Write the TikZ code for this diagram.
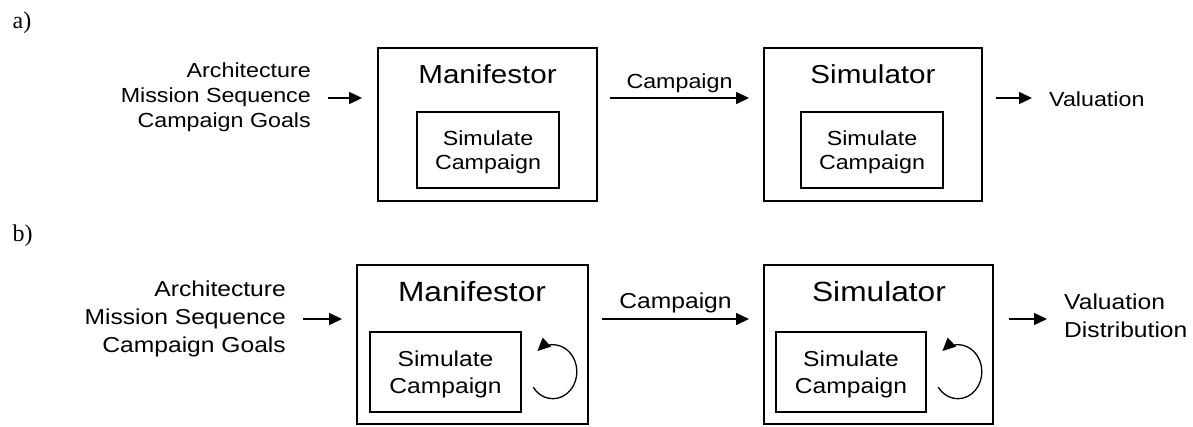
\documentclass[tikz,border=0pt]{standalone}
\usepackage{fontspec}
\setmainfont{Liberation Sans}[FakeStretch=1.14]
\newfontfamily\labelfont{Liberation Serif}
\usetikzlibrary{arrows.meta,calc}

\begin{document}
\begin{tikzpicture}[x=1pt,y=-1pt,
  txta/.style={font=\fontsize{20.4}{24}\selectfont, inner sep=0pt},
  txtb/.style={font=\fontsize{21.6}{26}\selectfont, inner sep=0pt},
  ttla/.style={font=\fontsize{26}{30}\selectfont, inner sep=0pt, anchor=base},
  ttlb/.style={font=\fontsize{27.8}{32}\selectfont, inner sep=0pt, anchor=base},
  panel/.style={font=\labelfont\fontsize{24}{28}\selectfont, inner sep=0pt, anchor=base west},
  outerbox/.style={draw, line width=1.9pt, inner sep=0pt},
  innerbox/.style={draw, line width=1.7pt, inner sep=0pt},
  flow/.style={line width=1.4pt, -{Triangle[length=13pt,width=12pt]}},
  repeatarc/.style={line width=1.3pt, -{Triangle[length=13pt,width=12pt]}},
]
\fill[white] (0,0) rectangle (1193,426);
\useasboundingbox (0,0) rectangle (1193,426);

% ---------------- a) single evaluation ----------------
\node[panel] (lbla) at (12.5,28.5) {a)};
\coordinate (rowa) at (0,98);

\node[txta, anchor=base east] (ina1) at (311,77) {Architecture};
\node[txta, anchor=base east] (ina2) at (311,102) {Mission Sequence};
\node[txta, anchor=base east] (ina3) at (311,127.5) {Campaign Goals};

\node[outerbox, minimum width=219pt, minimum height=153pt] (mana) at (487.5,124.5) {};
\node[ttla] (manat) at (487.5,83.5) {Manifestor};
\node[innerbox, minimum width=142pt, minimum height=76pt] (manai) at (488,150) {};
\node[txta, anchor=base] (manas) at (488,145) {Simulate};
\node[txta, anchor=base] (manac) at (488,169) {Campaign};

\node[outerbox, minimum width=218pt, minimum height=153pt] (sima) at (873,124.5) {};
\node[ttla] (simat) at (873,83.5) {Simulator};
\node[innerbox, minimum width=142pt, minimum height=76pt] (simai) at (872,150) {};
\node[txta, anchor=base] (simas) at (872,145) {Simulate};
\node[txta, anchor=base] (simac) at (872,169) {Campaign};

\node[txta, anchor=base west] (outa) at (1049,106.5) {Valuation};

\draw[flow] ([xshift=17pt]ina2.east |- rowa) -- ([xshift=-15pt]mana.west |- rowa);
\draw[flow] ([xshift=12pt]mana.east |- rowa) --
  node[txta, midway, above=5pt] (campa) {Campaign}
  ([xshift=-14pt]sima.west |- rowa);
\draw[flow] ([xshift=13pt]sima.east |- rowa) -- ([xshift=-17pt]outa.west |- rowa);

% ---------------- b) repeated evaluation ----------------
\node[panel] (lblb) at (12.5,241) {b)};
\coordinate (rowb) at (0,319);

\node[txtb, anchor=base east] (inb1) at (286,296) {Architecture};
\node[txtb, anchor=base east] (inb2) at (286,324) {Mission Sequence};
\node[txtb, anchor=base east] (inb3) at (286,352.5) {Campaign Goals};

\node[outerbox, minimum width=231pt, minimum height=159pt] (manb) at (472.5,344.5) {};
\node[ttlb] (manbt) at (472,301.7) {Manifestor};
\node[innerbox, minimum width=151pt, minimum height=80pt] (manbi) at (445.5,371.7) {};
\node[txtb, anchor=base] (manbs) at (445.5,366.7) {Simulate};
\node[txtb, anchor=base] (manbc) at (445.5,393.3) {Campaign};
\draw[repeatarc] ($(manbi.east)+(31pt,0pt)+(215:24pt and 27pt)$)
  arc[start angle=215, end angle=490, x radius=24pt, y radius=27pt];

\node[outerbox, minimum width=229pt, minimum height=159pt] (simb) at (878.5,344.5) {};
\node[ttlb] (simbt) at (879,301.7) {Simulator};
\node[innerbox, minimum width=150pt, minimum height=80pt] (simbi) at (851,371.7) {};
\node[txtb, anchor=base] (simbs) at (851,366.7) {Simulate};
\node[txtb, anchor=base] (simbc) at (851,393.3) {Campaign};
\draw[repeatarc] ($(simbi.east)+(31pt,0pt)+(215:24pt and 27pt)$)
  arc[start angle=215, end angle=490, x radius=24pt, y radius=27pt];

\node[txtb, anchor=base west] (outb1) at (1064,309) {Valuation};
\node[txtb, anchor=base west] (outb2) at (1064,337) {Distribution};

\draw[flow] ([xshift=17pt]inb2.east |- rowb) -- ([xshift=-14pt]manb.west |- rowb);
\draw[flow] ([xshift=13pt]manb.east |- rowb) --
  node[txtb, midway, above=5pt] (campb) {Campaign}
  ([xshift=-14pt]simb.west |- rowb);
\draw[flow] ([xshift=15pt]simb.east |- rowb) -- ([xshift=-17pt]outb1.west |- rowb);
\end{tikzpicture}
\end{document}
